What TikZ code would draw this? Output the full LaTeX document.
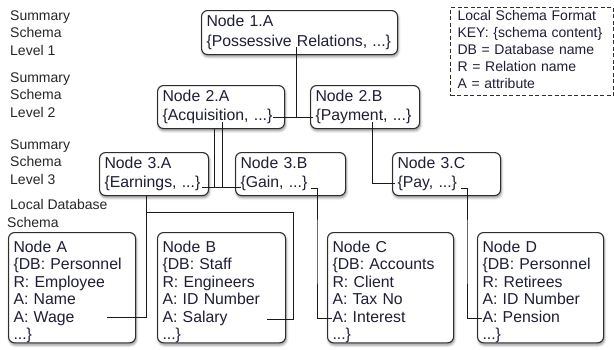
\documentclass[tikz,border=0pt]{standalone}
\usepackage{fontspec}
\setmainfont{Liberation Sans}
\usetikzlibrary{shadows.blur}

\definecolor{ink}{HTML}{1E1E38}
\definecolor{labelink}{HTML}{262626}
\definecolor{boxline}{HTML}{2E2E2E}
\definecolor{wirecol}{HTML}{1A1A1A}

% extra room above the first entry of the tall boxes
\newcommand\headroom{\rule{0pt}{20pt}}

\tikzset{
  schemabox/.style={draw=boxline, line width=1.1pt, rounded corners=6pt, fill=white,
    anchor=north west, align=left, inner xsep=5pt, inner ysep=0pt, text=ink,
    font=\fontsize{15.8}{19.5}\selectfont,
    blur shadow={shadow xshift=0.8pt, shadow yshift=-2.2pt, shadow blur radius=2.5pt, shadow opacity=45}},
  tallbox/.style={schemabox, font=\fontsize{15.8}{17.4}\selectfont},
  levellabel/.style={anchor=west, align=left, inner sep=0pt, text=labelink,
    font=\fontsize{14}{17.2}\selectfont},
  legendbox/.style={draw=boxline, line width=1.1pt, dash pattern=on 4pt off 2.5pt, fill=white,
    anchor=north west, align=left, inner xsep=7pt, inner ysep=0pt, text=ink,
    font=\fontsize{14}{16.9}\selectfont},
  wire/.style={draw=wirecol, line width=1pt}
}

\begin{document}
\begin{tikzpicture}[x=1pt, y=-1pt]
\useasboundingbox (0,0) rectangle (614,349);

% level captions on the left
\node[levellabel] (lab1) at (10,33) {Summary\\Schema\\Level 1};
\node[levellabel] (lab2) at (10,95) {Summary\\Schema\\Level 2};
\node[levellabel] (lab3) at (10,162) {Summary\\Schema\\Level 3};
\node[levellabel] (lab4) at (7,213.5) {\hspace*{3pt}Local Database\\Schema};

% legend
\node[legendbox, minimum width=163pt, minimum height=88pt, text width=149pt] (legend) at (450,7)
  {Local Schema Format\\KEY: \{schema content\}\\DB = Database name\\R = Relation name\\A = attribute\rule[-4pt]{0pt}{4pt}};

% summary schema nodes
\node[schemabox, minimum width=196pt, minimum height=44pt, text width=186pt] (n1A) at (201,10)
  {Node 1.A\\\{Possessive Relations, ...\}};
\node[schemabox, minimum width=127pt, minimum height=43pt, text width=117pt] (n2A) at (157,85)
  {Node 2.A\\\{Acquisition, ...\}};
\node[schemabox, minimum width=109pt, minimum height=43pt, text width=99pt] (n2B) at (310,85)
  {Node 2.B\\\{Payment, ...\}};
\node[schemabox, minimum width=109pt, minimum height=43pt, text width=99pt] (n3A) at (99,152)
  {Node 3.A\\\{Earnings, ...\}};
\node[schemabox, minimum width=110pt, minimum height=43pt, text width=100pt] (n3B) at (235,152)
  {Node 3.B\\\{Gain, ...\}};
\node[schemabox, minimum width=108pt, minimum height=43pt, text width=98pt] (n3C) at (392,152)
  {Node 3.C\\\{Pay, ...\}};

% local database schema nodes
\node[tallbox, minimum width=127pt, minimum height=106pt, text width=117pt] (nA) at (8,232)
  {\headroom Node A\\\{DB: Personnel\\R: Employee\\A: Name\\A: Wage\\...\}};
\node[tallbox, minimum width=128pt, minimum height=106pt, text width=118pt] (nB) at (157,232)
  {\headroom Node B\\\{DB: Staff\\R: Engineers\\A: ID Number\\A: Salary\\...\}};
\node[tallbox, minimum width=126pt, minimum height=106pt, text width=116pt] (nC) at (327,232)
  {\headroom Node C\\\{DB: Accounts\\R: Client\\A: Tax No\\A: Interest\\...\}};
\node[tallbox, minimum width=126pt, minimum height=106pt, text width=116pt] (nD) at (477,232)
  {\headroom Node D\\\{DB: Personnel\\R: Retirees\\A: ID Number\\A: Pension\\...\}};

% attachment points on the entries
\coordinate (n1A-out) at (296,47);
\coordinate (n1A-join) at (296,117);
\coordinate (n2A-in) at (273,117);
\coordinate (n2B-in) at (313,117);

\coordinate (n2A-out) at (222,122);
\coordinate (n2A-outb) at (214,129);
\coordinate (n3A-in) at (202,187);
\coordinate (n3B-in) at (241,187);

\coordinate (n2B-out) at (372,122);
\coordinate (n3C-in) at (395,183);

\coordinate (n3A-out) at (146,196);
\coordinate (nA-in) at (107,317);
\coordinate (nB-in) at (267,319);

\coordinate (n3B-out) at (311,188);
\coordinate (nC-in) at (332,318);

\coordinate (n3C-out) at (461,188);
\coordinate (nD-in) at (482,318);

% connectors
\draw[wire] (n1A-out) -- (n1A-join);
\draw[wire] (n2A-in) -- (n2B-in);

\draw[wire] (n2A-out) -- (n2A-out |- n3A-in);
\draw[wire] (n2A-outb) -- (n2A-outb |- n3A-in);
\draw[wire] (n3A-in) -- (n3B-in);

\draw[wire] (n2B-out) |- (n3C-in);

\draw[wire] (n3A-out) |- (nA-in);
\draw[wire] (n3A-out |- 0,212) -| (293,212) |- (nB-in);

\draw[wire] (n3B-out) -| (317,250) |- (nC-in);
\draw[wire] (n3C-out) -| (467,250) |- (nD-in);
\end{tikzpicture}
\end{document}
